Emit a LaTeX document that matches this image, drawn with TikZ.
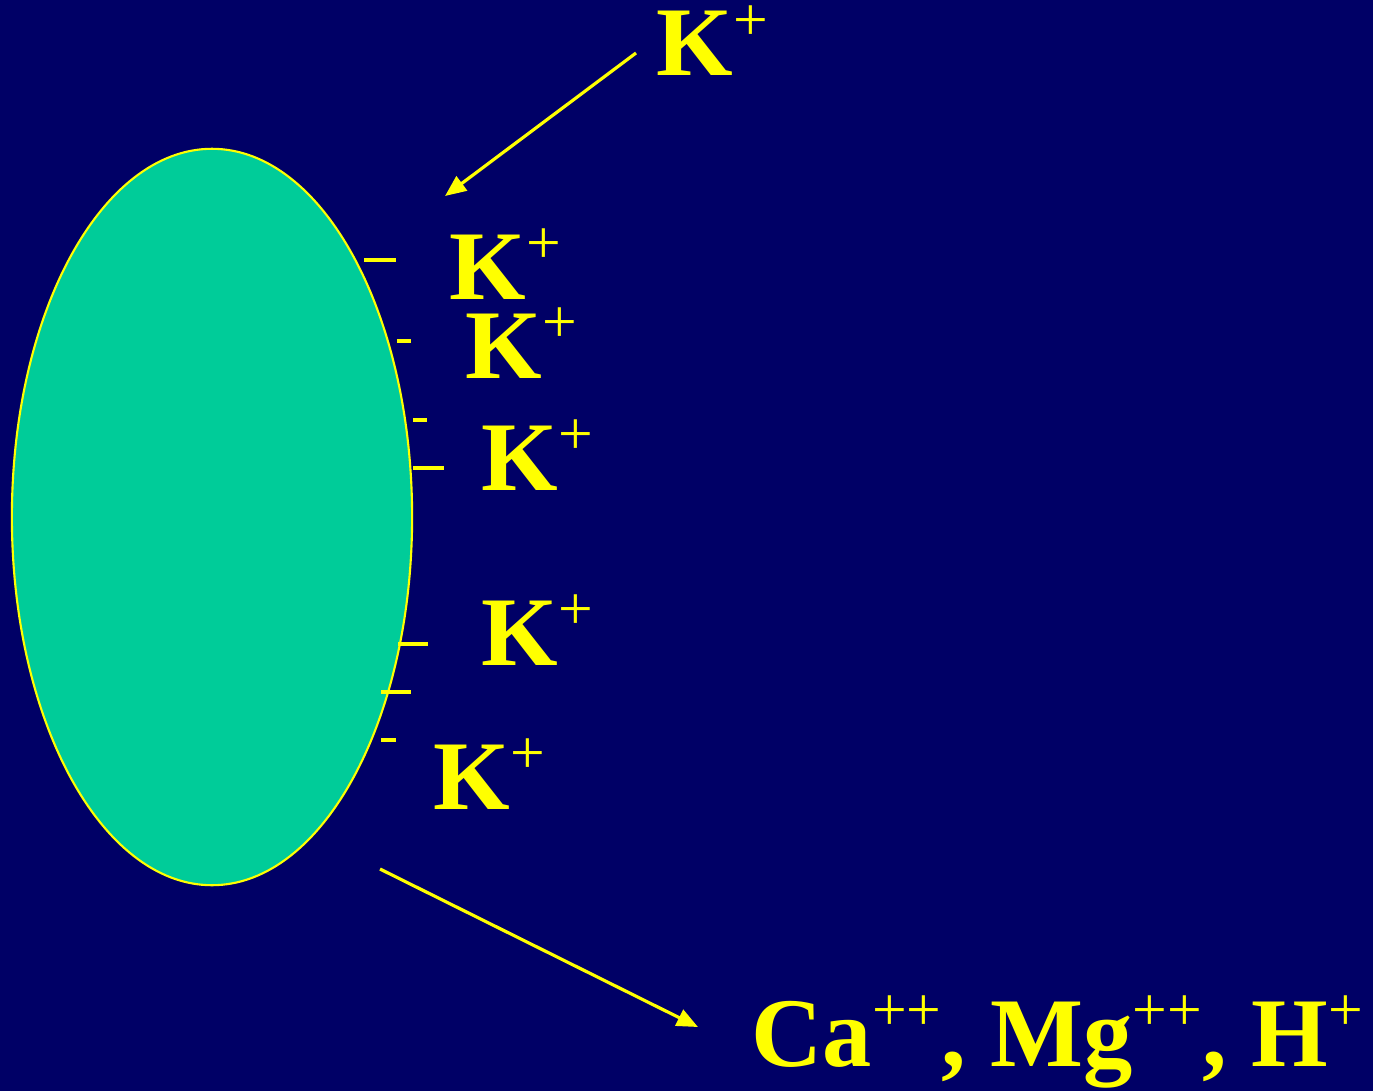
\documentclass[tikz,border=0pt]{standalone}
\usepackage{fontspec}
\setmainfont{Liberation Serif}
\usetikzlibrary{shapes.geometric, arrows.meta, positioning}
\definecolor{slideblue}{RGB}{0, 0, 102}
\definecolor{cellgreen}{RGB}{0, 204, 153}
\definecolor{ionyellow}{RGB}{255, 255, 0}
\newcommand{\chg}[1]{\raisebox{10pt}[18.5pt][0pt]{\fontsize{17.5}{17.5}\selectfont\mdseries #1}}

\begin{document}
\begin{tikzpicture}[
  x=0.01cm, y=-0.01cm,
  ion/.style={anchor=base west, inner sep=0pt, text depth=0pt, text=ionyellow, font=\fontsize{28}{30}\selectfont\bfseries},
  charge/.style={ionyellow, line width=0.9pt},
  flow/.style={ionyellow, line width=0.9pt, -{Triangle[length=6pt, width=5pt]}}
]
  % Background
  \useasboundingbox (0, 0) rectangle (1373, 1091);
  \fill[slideblue] (0, 0) rectangle (1373, 1091);

  % Cell
  \node[draw=ionyellow, fill=cellgreen, ellipse, line width=0.6pt,
        minimum width=4cm, minimum height=7.36cm, inner sep=0pt] (cell) at (212, 517) {};

  % Negative charges on the surface
  \foreach \xa/\xb/\y in {364/396/260, 397/411/341, 413/427/420, 413/444/468, 398/428/644, 381/411/692, 381/396/740} {
    \draw[charge] (\xa, \y) -- (\xb, \y);
  }

  % Ions
  \node[ion] (ktop) at (656, 76) {K\chg{+}};
  \node[ion] (k1) at (449, 299) {K\chg{+}};
  \node[ion] (k2) at (465, 378) {K\chg{+}};
  \node[ion] (k3) at (481, 490) {K\chg{+}};
  \node[ion] (k4) at (481, 665) {K\chg{+}};
  \node[ion] (k5) at (433, 809) {K\chg{+}};
  \node[ion] (others) at (751, 1066) {Ca\chg{++}, Mg\chg{++}, H\chg{+}};

  % Arrows
  \coordinate (intail) at (636, 53);
  \coordinate (inhead) at (445, 196);
  \coordinate (outtail) at (380, 869);
  \coordinate (outhead) at (698, 1027);
  \draw[flow] (intail) -- (inhead);
  \draw[flow] (outtail) -- (outhead);
\end{tikzpicture}
\end{document}
